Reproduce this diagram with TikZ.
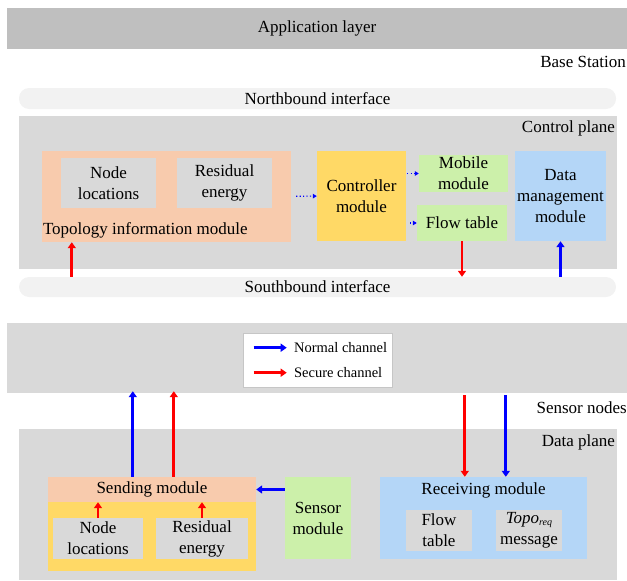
\documentclass[tikz,border=0pt]{standalone}
\usepackage{fontspec}
\setmainfont{Liberation Serif}
\usetikzlibrary{arrows.meta,positioning}

\definecolor{appgray}{RGB}{191,191,191}
\definecolor{planegray}{RGB}{217,217,217}
\definecolor{ifacegray}{RGB}{242,242,242}
\definecolor{topoorange}{RGB}{248,203,173}
\definecolor{ctrlyellow}{RGB}{255,217,102}
\definecolor{modgreen}{RGB}{204,240,170}
\definecolor{modblue}{RGB}{180,214,247}

\begin{document}
\begin{tikzpicture}[x=1pt, y=-1pt,
    every node/.style={font=\fontsize{17}{21}\selectfont, inner sep=0pt, align=center},
    band/.style={fill=#1},
    iface/.style={fill=ifacegray, rounded corners=10pt},
    plane/.style={fill=planegray},
    inner/.style={fill=planegray},
    legendbox/.style={fill=white, draw=gray!45, line width=0.6pt},
    legendtxt/.style={font=\fontsize{14.5}{16}\selectfont},
    normal/.style={draw=blue, line width=2.8pt, -{Triangle[length=6pt,width=8pt]}},
    secure/.style={draw=red, line width=2.8pt, -{Triangle[length=6pt,width=8pt]}},
    ctrlflow/.style={draw=blue, line width=1.2pt, dash pattern=on 1.2pt off 2.2pt, -{Triangle[length=4pt,width=4.5pt]}}
  ]
    \useasboundingbox (0,0) rectangle (627,581);
    \node[band=appgray, minimum width=620pt, minimum height=41pt] (app) at (317,28.5) {Application layer};
    \node[anchor=base east] (bsLbl) at (626,67) {Base Station};
    \node[iface, minimum width=597pt, minimum height=21pt] (north) at (317.5,98.5) {Northbound interface};
    \node[plane, minimum width=598pt, minimum height=153pt] (ctrlPlane) at (318,192.5) {};
    \node[anchor=base east] (ctrlLbl) at ([shift={(-2,17)}]ctrlPlane.north east) {Control plane};
    \node[band=topoorange, minimum width=249pt, minimum height=91pt] (topo) at (166.5,196.5) {};
    \node[inner, minimum width=95pt, minimum height=50pt] (nodeLocA) at (108.5,183) {Node\\locations};
    \node[inner, minimum width=95pt, minimum height=50pt] (resEnA) at (224.5,183) {Residual\\energy};
    \node[anchor=base west] (topoLbl) at ([shift={(1,-8)}]topo.south west) {Topology information module};
    \node[band=ctrlyellow, minimum width=89pt, minimum height=90pt] (ctrl) at (361.5,196) {Controller\\module};
    \node[band=modgreen, minimum width=89pt, minimum height=37pt] (mobile) at (463.5,173.5) {Mobile\\module};
    \node[band=modgreen, minimum width=90pt, minimum height=36pt] (flowA) at (462,223) {Flow table};
    \node[band=modblue, minimum width=91pt, minimum height=90pt] (dataMgmt) at (560.5,196) {Data\\management\\module};
    \node[iface, minimum width=597pt, minimum height=20pt] (south) at (317.5,287) {Southbound interface};

    \node[band=planegray, minimum width=620pt, minimum height=70pt] (sensorBand) at (317,358) {};
    \node[legendbox, minimum width=149pt, minimum height=54pt] (legend) at (317.5,360) {};
    \coordinate (nA) at ([shift={(11,15)}]legend.north west);
    \coordinate (nB) at ([shift={(44,15)}]legend.north west);
    \coordinate (sA) at ([shift={(11,40)}]legend.north west);
    \coordinate (sB) at ([shift={(44,40)}]legend.north west);
    \node[anchor=base east] (snLbl) at (627,413) {Sensor nodes};

    \node[plane, minimum width=598pt, minimum height=151pt] (dataPlane) at (318,504.5) {};
    \node[anchor=base east] (dpLbl) at ([shift={(-2,18)}]dataPlane.north east) {Data plane};
    \node[band=ctrlyellow, minimum width=208pt, minimum height=94pt] (sendBase) at (152,524) {};
    \node[band=topoorange, minimum width=208pt, minimum height=25pt] (sending) at (152,489.5) {Sending module};
    \node[inner, minimum width=90pt, minimum height=41pt] (nodeLocB) at (98,538.5) {Node\\locations};
    \node[inner, minimum width=92pt, minimum height=41pt] (resEnB) at (202,538.5) {Residual\\energy};
    \node[band=modgreen, minimum width=66pt, minimum height=82pt] (sensorMod) at (318,518) {Sensor\\module};
    \node[band=modblue, minimum width=207pt, minimum height=82pt] (recv) at (483.5,518) {};
    \node[anchor=base] (recvLbl) at ([yshift=-18pt]recv.north) {Receiving module};
    \node[inner, minimum width=66pt, minimum height=41pt] (flowB) at (439,530.5) {Flow\\table};
    \node[inner, minimum width=66pt, minimum height=41pt] (topoMsg) at (529,530.5) {\textit{Topo}\raisebox{-2pt}{\fontsize{10}{10}\selectfont\textit{req}}\\message};

    \coordinate (topoIn) at ([xshift=30pt]topo.south west);
    \coordinate (sendBlue) at ([xshift=85pt]sending.north west);
    \coordinate (sendRed) at ([xshift=126pt]sending.north west);
    \coordinate (recvRed) at ([xshift=85pt]recv.north west);
    \coordinate (recvBlue) at ([xshift=126pt]recv.north west);

    \draw[secure] (south.north -| topoIn) -- (topoIn);
    \draw[ctrlflow, shorten <=5pt] (topo) -- (ctrl);
    \draw[ctrlflow, shorten <=1pt] (ctrl.east |- mobile.west) -- (mobile.west);
    \draw[ctrlflow, shorten <=4pt] (ctrl.east |- flowA.west) -- (flowA.west);
    \draw[secure] (flowA.south) -- (south.north -| flowA.south);
    \draw[normal] (south.north -| dataMgmt.south) -- (dataMgmt.south);
    \draw[normal] (nA) -- (nB) node[right=6pt, legendtxt] (nLbl) {Normal channel};
    \draw[secure] (sA) -- (sB) node[right=6pt, legendtxt] (sLbl) {Secure channel};
    \draw[normal, shorten >=-2pt] (sendBlue) -- (sendBlue |- sensorBand.south);
    \draw[secure, shorten >=-2pt] (sendRed) -- (sendRed |- sensorBand.south);
    \draw[secure, shorten <=2pt] (sensorBand.south -| recvRed) -- (recvRed);
    \draw[normal, shorten <=2pt] (sensorBand.south -| recvBlue) -- (recvBlue);
    \draw[normal] (sensorMod.west |- sending) -- (sending.east);
    \draw[secure] (nodeLocB.north) -- (nodeLocB.north |- sending.south);
    \draw[secure] (resEnB.north) -- (resEnB.north |- sending.south);
  \end{tikzpicture}
\end{document}
